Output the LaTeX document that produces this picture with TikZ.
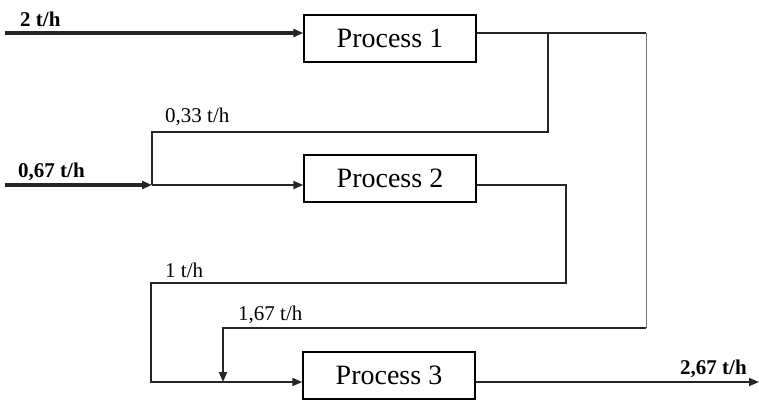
\documentclass[tikz,border=0pt]{standalone}
\usepackage{fontspec}
\setmainfont{Liberation Serif}
\usetikzlibrary{arrows.meta}
\begin{document}
\begin{tikzpicture}[x=1pt,y=-1pt,
  proc/.style={draw, line width=1.4pt, minimum width=172pt, minimum height=47pt, inner sep=0pt, font=\fontsize{28}{30}\selectfont},
  flow/.style={line width=1.8pt, draw=black!85},
  feed/.style={line width=3.5pt, draw=black!85},
  tip/.style={-{Triangle[length=10pt,width=8pt]}},
  lab/.style={anchor=west, inner sep=0pt, font=\fontsize{21}{23}\selectfont},
  blab/.style={lab, font=\fontsize{21}{23}\selectfont\bfseries}]
\useasboundingbox (0,0) rectangle (759,400);
% process boxes
\node[proc] (p1) at (390,38.5) {Process 1};
\node[proc] (p2) at (390,178.5) {Process 2};
\node[proc] (p3) at (389,375.5) {Process 3};
% coordinates
\coordinate (a1) at (5,33);
\coordinate (a2) at (5,185);
\coordinate (j1) at (152,185);
\coordinate (b1) at (548,33);
\coordinate (b2) at (548,132);
\coordinate (b3) at (152,132);
\coordinate (r1) at (646,33);
\coordinate (r2) at (646,328);
\coordinate (r3) at (223,328);
\coordinate (r4) at (223,382);
\coordinate (c1) at (566,185);
\coordinate (c2) at (566,283);
\coordinate (c3) at (151,283);
\coordinate (c4) at (151,382);
\coordinate (o1) at (759,382);
% feeds
\draw[feed, tip] (a1) -- (p1.west |- a1);
\draw[feed, tip] (a2) -- (j1);
\draw[flow, tip] (j1) -- (p2.west |- j1);
% process 1 outlet
\draw[flow] (p1.east |- a1) -- (r1);
\draw[line width=1pt, draw=black!55] (r1) -- (r2);
\draw[flow, tip] (r2) -- (r3) -- (r4);
\draw[flow] (b1) -- (b2) -- (b3) -- (j1);
% process 2 outlet
\draw[flow, tip] (p2.east |- c1) -- (c1) -- (c2) -- (c3) -- (c4) -- (p3.west |- c4);
% product
\draw[flow, tip] (p3.east |- o1) -- (o1);
% labels
\node[blab] (l1) at (20,19) {2 t/h};
\node[lab] (l2) at (165,117) {0,33 t/h};
\node[blab] (l3) at (18,172) {0,67 t/h};
\node[lab] (l4) at (165,270) {1 t/h};
\node[lab] (l5) at (238,315) {1,67 t/h};
\node[blab] (l6) at (680,369) {2,67 t/h};
\end{tikzpicture}
\end{document}
